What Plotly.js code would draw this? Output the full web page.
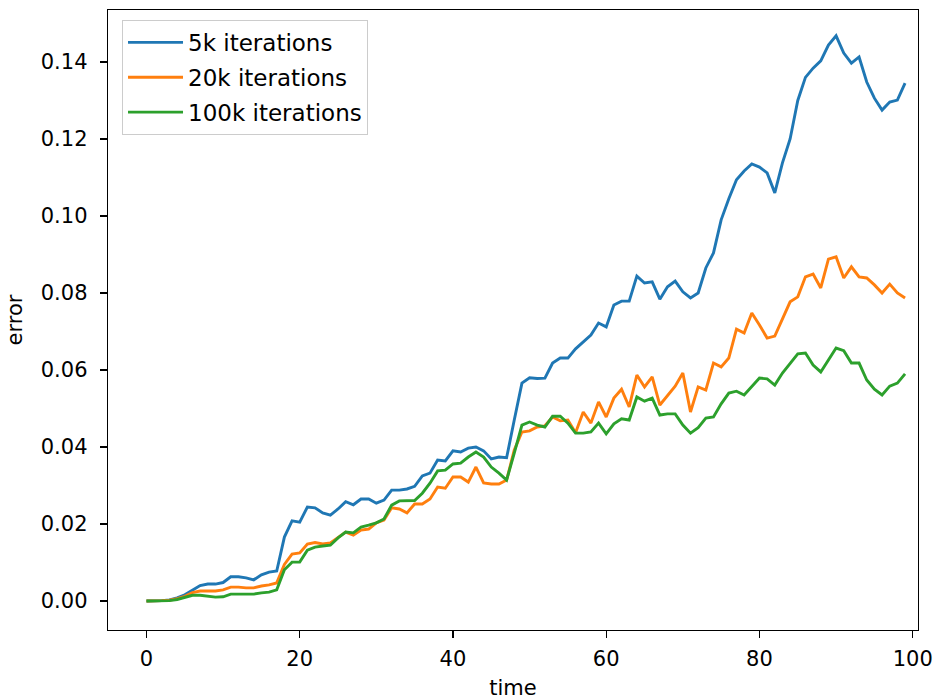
<!DOCTYPE html>
<html>
<head>
<meta charset="utf-8">
<script src="https://cdn.plot.ly/plotly-3.0.1.min.js"></script>
<style>
html, body { margin: 0; padding: 0; overflow: hidden; background: #fff; }
#chart { width: 936px; height: 700px; }
</style>
</head>
<body>
<div id="chart"></div>
<script>
// time steps 0..99
var time = [];
for (var i = 0; i < 100; i++) time.push(i);

var seriesNames = ["5k iterations", "20k iterations", "100k iterations"];
var seriesColors = ["#1f77b4", "#ff7f0e", "#2ca02c"];

var err5k = [
  0.0000, 0.0000, 0.0001, 0.0003, 0.0008, 0.0016, 0.0028, 0.0040, 0.0044, 0.0044,
  0.0048, 0.0063, 0.0063, 0.0060, 0.0055, 0.0068, 0.0075, 0.0078, 0.0166, 0.0208,
  0.0205, 0.0244, 0.0242, 0.0229, 0.0223, 0.0239, 0.0258, 0.0250, 0.0265, 0.0265,
  0.0254, 0.0262, 0.0288, 0.0288, 0.0291, 0.0298, 0.0325, 0.0332, 0.0366, 0.0364,
  0.0390, 0.0387, 0.0397, 0.0400, 0.0390, 0.0369, 0.0374, 0.0372, 0.0470, 0.0566,
  0.0580, 0.0578, 0.0579, 0.0618, 0.0631, 0.0631, 0.0655, 0.0673, 0.0691, 0.0722,
  0.0712, 0.0769, 0.0779, 0.0779, 0.0844, 0.0826, 0.0829, 0.0784, 0.0816, 0.0831,
  0.0803, 0.0787, 0.0800, 0.0865, 0.0904, 0.0990, 0.1045, 0.1094, 0.1117, 0.1135,
  0.1127, 0.1112, 0.1060, 0.1138, 0.1200, 0.1300, 0.1360, 0.1384, 0.1403, 0.1444,
  0.1468, 0.1423, 0.1397, 0.1413, 0.1348, 0.1306, 0.1275, 0.1296, 0.1301, 0.1345
];

var err20k = [
  0.0000, 0.0000, 0.0001, 0.0002, 0.0006, 0.0012, 0.0022, 0.0026, 0.0026, 0.0026,
  0.0029, 0.0036, 0.0036, 0.0034, 0.0034, 0.0039, 0.0042, 0.0047, 0.0095, 0.0122,
  0.0125, 0.0148, 0.0152, 0.0148, 0.0151, 0.0166, 0.0179, 0.0171, 0.0184, 0.0187,
  0.0203, 0.0210, 0.0242, 0.0239, 0.0229, 0.0252, 0.0252, 0.0265, 0.0296, 0.0293,
  0.0322, 0.0322, 0.0309, 0.0348, 0.0307, 0.0304, 0.0304, 0.0314, 0.0392, 0.0439,
  0.0442, 0.0452, 0.0455, 0.0478, 0.0468, 0.0470, 0.0437, 0.0491, 0.0462, 0.0517,
  0.0478, 0.0527, 0.0550, 0.0504, 0.0587, 0.0556, 0.0582, 0.0509, 0.0535, 0.0558,
  0.0592, 0.0491, 0.0556, 0.0548, 0.0618, 0.0608, 0.0631, 0.0706, 0.0696, 0.0748,
  0.0717, 0.0683, 0.0688, 0.0735, 0.0777, 0.0790, 0.0842, 0.0849, 0.0813, 0.0888,
  0.0894, 0.0839, 0.0868, 0.0842, 0.0839, 0.0821, 0.0800, 0.0823, 0.0800, 0.0787
];

var err100k = [
  0.0000, 0.0000, 0.0000, 0.0001, 0.0004, 0.0009, 0.0015, 0.0015, 0.0012, 0.0010,
  0.0011, 0.0018, 0.0018, 0.0018, 0.0018, 0.0021, 0.0023, 0.0029, 0.0081, 0.0101,
  0.0101, 0.0132, 0.0140, 0.0143, 0.0145, 0.0164, 0.0179, 0.0177, 0.0192, 0.0197,
  0.0203, 0.0213, 0.0249, 0.0260, 0.0260, 0.0261, 0.0280, 0.0306, 0.0338, 0.0340,
  0.0356, 0.0358, 0.0374, 0.0387, 0.0374, 0.0348, 0.0332, 0.0314, 0.0384, 0.0457,
  0.0465, 0.0457, 0.0452, 0.0480, 0.0480, 0.0462, 0.0436, 0.0436, 0.0439, 0.0462,
  0.0434, 0.0460, 0.0473, 0.0470, 0.0530, 0.0519, 0.0527, 0.0483, 0.0486, 0.0486,
  0.0457, 0.0436, 0.0450, 0.0475, 0.0478, 0.0512, 0.0540, 0.0545, 0.0535, 0.0558,
  0.0579, 0.0577, 0.0561, 0.0592, 0.0618, 0.0642, 0.0644, 0.0613, 0.0595, 0.0626,
  0.0657, 0.0650, 0.0618, 0.0618, 0.0574, 0.0550, 0.0535, 0.0558, 0.0566, 0.0590
];

var xTickVals = [0, 20, 40, 60, 80, 100];
var yTickVals = [0.00, 0.02, 0.04, 0.06, 0.08, 0.10, 0.12, 0.14];

var allSeries = [err5k, err20k, err100k];
var traces = allSeries.map(function (ys, k) {
  return {
    x: time, y: ys, type: "scatter", mode: "lines", name: seriesNames[k],
    legendgroup: "g" + k,
    line: { color: seriesColors[k], width: 2.9 }
  };
});

var font = { family: "DejaVu Sans, sans-serif", size: 21, color: "#000" };
var legendFont = { family: "DejaVu Sans, sans-serif", size: 23, color: "#000" };

var layout = {
  width: 936, height: 700,
  margin: { l: 108, r: 18, t: 10, b: 70, pad: 0 },
  paper_bgcolor: "#fff", plot_bgcolor: "#fff",
  font: font,
  showlegend: true,
  legend: {
    x: 0.0173, y: 0.984, xanchor: "left", yanchor: "top",
    bgcolor: "rgba(255,255,255,0.8)", bordercolor: "#cccccc", borderwidth: 1,
    font: legendFont, itemwidth: 55, tracegroupgap: 2
  },
  xaxis: {
    range: [-5.02, 100.69], tickvals: xTickVals, ticktext: xTickVals.map(String),
    showgrid: false, zeroline: false,
    showline: true, mirror: true, linecolor: "#000", linewidth: 1.3,
    ticks: "outside", ticklen: 7, tickwidth: 1.3, tickcolor: "#000",
    tickfont: font, automargin: false, ticklabelstandoff: 2,
    title: { text: "time", font: font, standoff: 12 }
  },
  yaxis: {
    range: [-0.00753, 0.1535], tickvals: yTickVals,
    ticktext: yTickVals.map(function (v) { return v.toFixed(2); }),
    showgrid: false, zeroline: false,
    showline: true, mirror: true, linecolor: "#000", linewidth: 1.3,
    ticks: "outside", ticklen: 7, tickwidth: 1.3, tickcolor: "#000",
    tickfont: font, automargin: false, ticklabelstandoff: 8,
    title: { text: "error", font: font, standoff: 12 }
  }
};

Plotly.newPlot("chart", traces, layout, { displayModeBar: false, staticPlot: true });
</script>
</body>
</html>
